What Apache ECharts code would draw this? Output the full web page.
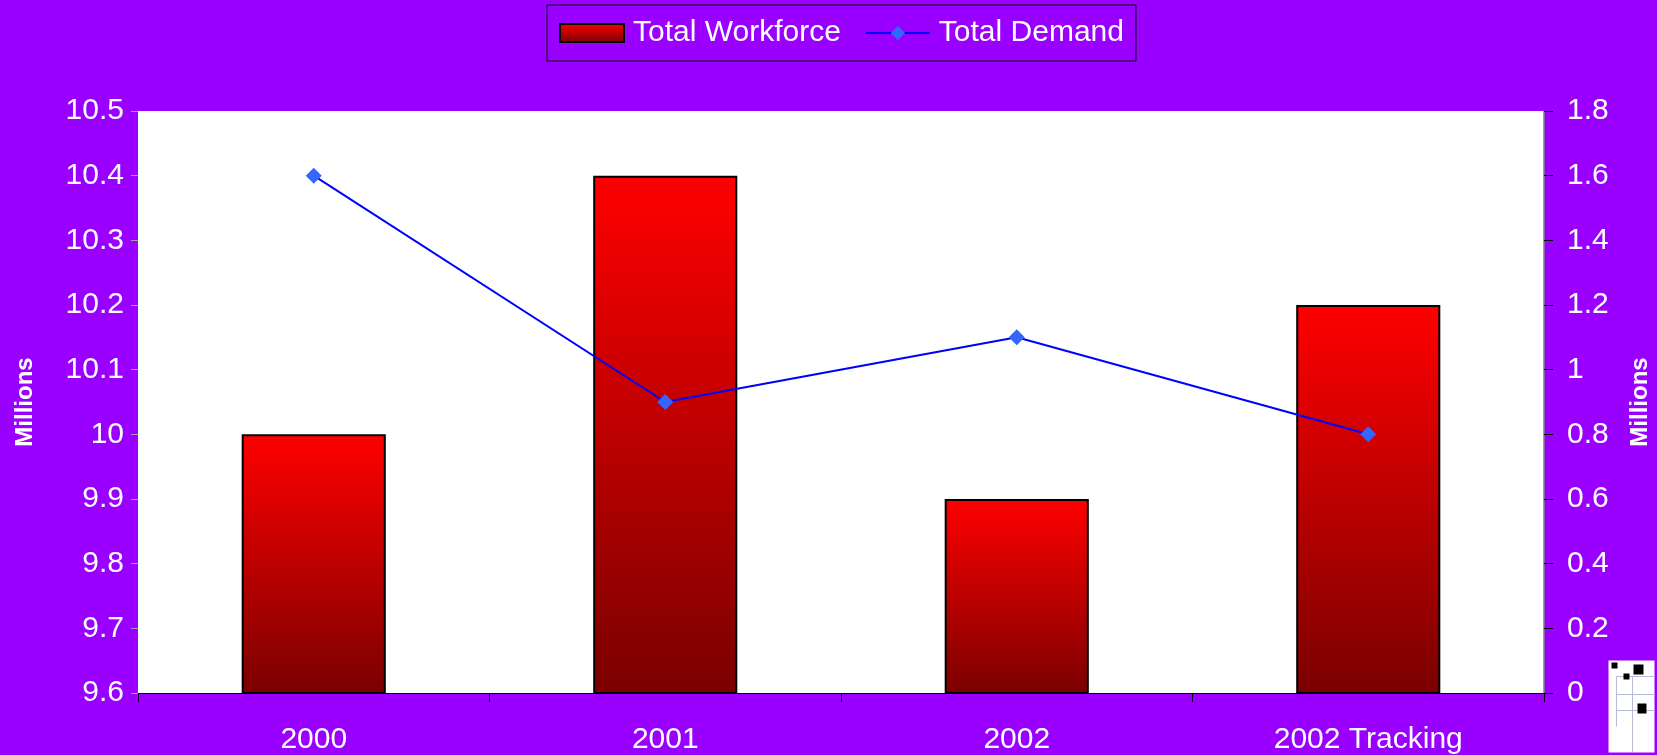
<!DOCTYPE html>
<html>
<head>
<meta charset="utf-8">
<script src="https://cdn.jsdelivr.net/npm/echarts@6/dist/echarts.min.js"></script>
<style>
  html, body { margin: 0; padding: 0; background: #9900ff; }
  #chart { width: 1657px; height: 755px; }
</style>
</head>
<body>
<div id="chart"></div>
<script>
const categories = ['2000', '2001', '2002', '2002 Tracking'];
const workforce = [10.0, 10.4, 9.9, 10.2]; //左轴, 百万
const demand = [1.6, 0.9, 1.1, 0.8]; //右轴, 百万

const chart = echarts.init(document.getElementById('chart'));
const font = '"Liberation Sans", Arial, sans-serif';

const option = {
  backgroundColor: '#9900ff',
  textStyle: { fontFamily: font },
  legend: {
    top: 5,
    left: 547,
    padding: [13, 12, 13, 12],
    itemGap: 24,
    itemWidth: 64,
    itemHeight: 18,
    borderColor: '#000',
    borderWidth: 1,
    textStyle: { color: '#fff', fontSize: 30, fontFamily: font, padding: [0, 0, 0, 4] },
    data: [{ name: 'Total Workforce', icon: 'rect' }, { name: 'Total Demand' }]
  },
  grid: {
    left: 138,
    right: 113,
    top: 111,
    bottom: 62,
    outerBoundsMode: 'none',
    show: true,
    backgroundColor: '#fff',
    borderWidth: 0
  },
  xAxis: {
    type: 'category',
    data: categories,
    axisLine: { lineStyle: { color: '#000', width: 1 } },
    axisTick: { show: true, length: 9, lineStyle: { color: '#000' } },
    axisLabel: { color: '#fff', fontSize: 30, margin: 32, fontFamily: font }
  },
  yAxis: [{
    type: 'value',
    min: 9.6,
    max: 10.5,
    interval: 0.1,
    name: 'Millions',
    nameLocation: 'middle',
    nameGap: 101,
    nameRotate: 90,
    nameTextStyle: { color: '#fff', fontSize: 24, fontWeight: 'bold', fontFamily: font },
    axisLine: { show: false },
    axisTick: { show: true, length: 7, lineStyle: { color: '#a0a0a0' } },
    splitLine: { show: false },
    axisLabel: {
      color: '#fff', fontSize: 30, margin: 14, fontFamily: font,
      formatter: v => String(Math.round(v * 10) / 10)
    }
  }, {
    type: 'value',
    min: 0,
    max: 1.8,
    interval: 0.2,
    name: 'Millions',
    nameLocation: 'middle',
    nameGap: 84,
    nameRotate: 90,
    nameTextStyle: { color: '#fff', fontSize: 24, fontWeight: 'bold', fontFamily: font },
    axisLine: { show: true, lineStyle: { color: '#808080', width: 1.5 } },
    axisTick: { show: true, length: 9, lineStyle: { color: '#000' } },
    splitLine: { show: false },
    axisLabel: {
      color: '#fff', fontSize: 30, margin: 23, fontFamily: font,
      formatter: v => String(Math.round(v * 10) / 10)
    }
  }],
  series: [{
    name: 'Total Workforce',
    type: 'bar',
    yAxisIndex: 0,
    barWidth: '41%',
    data: workforce,
    itemStyle: {
      color: new echarts.graphic.LinearGradient(0, 0, 0, 1, [
        { offset: 0, color: '#ff0000' },
        { offset: 1, color: '#7a0000' }
      ]),
      borderColor: '#000',
      borderWidth: 2
    },
    z: 2
  }, {
    name: 'Total Demand',
    type: 'line',
    yAxisIndex: 1,
    data: demand,
    symbol: 'diamond',
    symbolSize: 16,
    lineStyle: { color: '#0000ff', width: 2 },
    itemStyle: { color: '#3366ff', borderWidth: 0 },
    z: 3
  }],
  graphic: [{
    type: 'group',
    right: 0,
    bottom: 0,
    children: [
      { type: 'rect', shape: { x: 0, y: 0, width: 46, height: 92 }, style: { fill: '#fff' } },
      { type: 'line', shape: { x1: 8, y1: 16, x2: 46, y2: 16 }, style: { stroke: '#b8bcd8', lineWidth: 1 } },
      { type: 'line', shape: { x1: 8, y1: 34, x2: 46, y2: 34 }, style: { stroke: '#b8bcd8', lineWidth: 1 } },
      { type: 'line', shape: { x1: 8, y1: 50, x2: 46, y2: 50 }, style: { stroke: '#b8bcd8', lineWidth: 1 } },
      { type: 'line', shape: { x1: 8, y1: 16, x2: 8, y2: 66 }, style: { stroke: '#b8bcd8', lineWidth: 1 } },
      { type: 'line', shape: { x1: 24, y1: 16, x2: 24, y2: 92 }, style: { stroke: '#b8bcd8', lineWidth: 1 } },
      { type: 'rect', shape: { x: 3, y: 2, width: 6, height: 6 }, style: { fill: '#000' } },
      { type: 'rect', shape: { x: 25, y: 4, width: 10, height: 10 }, style: { fill: '#000' } },
      { type: 'rect', shape: { x: 15, y: 13, width: 6, height: 6 }, style: { fill: '#000' } },
      { type: 'rect', shape: { x: 29, y: 43, width: 9, height: 10 }, style: { fill: '#000' } }
    ]
  }]
};

chart.setOption(option);
</script>
</body>
</html>
